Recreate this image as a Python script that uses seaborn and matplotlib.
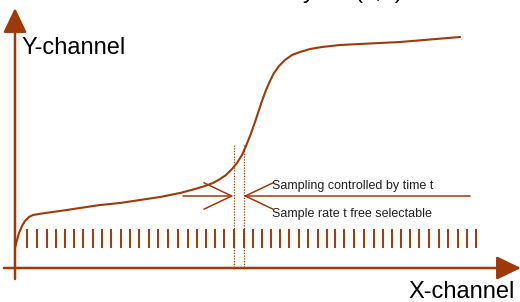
import matplotlib
matplotlib.use("Agg")
import matplotlib.pyplot as plt
import seaborn as sns
import pandas as pd

curve_x = [15, 17, 19, 22, 25, 29, 33, 45, 60, 80, 100, 120, 140, 160, 180,
           195, 205, 213, 220, 226, 232, 237, 242, 246, 250, 254, 258, 262,
           266, 270, 274, 279, 285, 292, 300, 310, 322, 340, 360, 380, 400,
           430, 460]
curve_y = [248, 240, 233, 226, 221, 217, 215, 213, 211, 208, 205, 203, 200,
           197, 193, 189, 186, 183, 179, 175, 169, 163, 155, 146, 136, 125,
           113, 101, 90, 81, 73, 66, 60, 55, 52, 49, 47, 45, 44, 43, 42,
           39.5, 37]

# Abtastzeitpunkte (Striche)
sample_x = [27.3, 37.3, 46.7, 56.0, 65.0, 74.0, 82.7, 92.7, 102.0, 111.3,
            120.7, 130.0, 139.3, 148.7, 158.0, 168.0, 177.5, 187.7, 196.7,
            205.7, 214.7, 224.3, 233.7, 243.7, 252.7, 261.7, 271.0, 280.0,
            289.3, 298.7, 308.3, 317.7, 326.7, 335.0, 344.3, 354.3, 364.3,
            374.0, 383.3, 392.3, 401.3, 410.3, 419.3, 429.3, 439.3, 448.3,
            457.7, 466.7, 475.7]
sample_top = 229
sample_bottom = 248

# Zeitfenster t (gestrichelte Linien)
window_x = [233.5, 243.5]

COLOR = "#A0390A"

sns.set_theme(style="white")
plt.rcParams["font.family"] = ["Liberation Sans", "DejaVu Sans"]

fig = plt.figure(figsize=(5.2, 3.02), dpi=100)
ax = fig.add_axes([0, 0, 1, 1])
ax.set_xlim(0, 520)
ax.set_ylim(302, 0)
ax.axis("off")

# Achsen mit Pfeilspitzen
axis_arrow = dict(arrowstyle="-|>,head_length=1.5,head_width=0.72",
                  mutation_scale=10, color=COLOR, lw=1.8,
                  shrinkA=0, shrinkB=0)
ax.annotate("", xy=(15, 8), xytext=(15, 279), arrowprops=axis_arrow,
            annotation_clip=False)
ax.annotate("", xy=(521, 268), xytext=(4, 268), arrowprops=axis_arrow,
            annotation_clip=False)

# Kennlinie
df = pd.DataFrame({"x": curve_x, "y": curve_y})
sns.lineplot(data=df, x="x", y="y", sort=False, color=COLOR, lw=1.5, ax=ax)
ax.set_xlabel("")
ax.set_ylabel("")

# Abtaststriche
ax.vlines(sample_x, sample_top, sample_bottom, color=COLOR, lw=1.4)

# Zeitfenster
ax.vlines(window_x, 145, 268, color=COLOR, lw=0.9, linestyles=(0, (1, 1.2)))

# Pfeile auf das Zeitfenster
head = dict(arrowstyle="->,head_length=2.0,head_width=0.95",
            mutation_scale=10, color=COLOR, lw=1.1, shrinkA=0, shrinkB=0)
ax.annotate("", xy=(window_x[0], 196), xytext=(183, 196), arrowprops=head)
ax.annotate("", xy=(window_x[1], 196), xytext=(470, 196), arrowprops=head)

# Beschriftungen
ax.text(22, 54, "Y-channel", fontsize=17, color="black", va="baseline")
ax.text(408, 297.5, "X-channel", fontsize=17, color="black", va="baseline")
ax.text(272, 186, "Sampling controlled by time t", fontsize=9,
        color="#222222", va="center")
ax.text(272, 214.5, "Sample rate t free selectable", fontsize=9,
        color="#222222", va="center")
ax.text(303, -2, "y = f (x, t)", fontsize=17, color="black", va="baseline",
        clip_on=False)

fig.savefig("out.png", dpi=100)
